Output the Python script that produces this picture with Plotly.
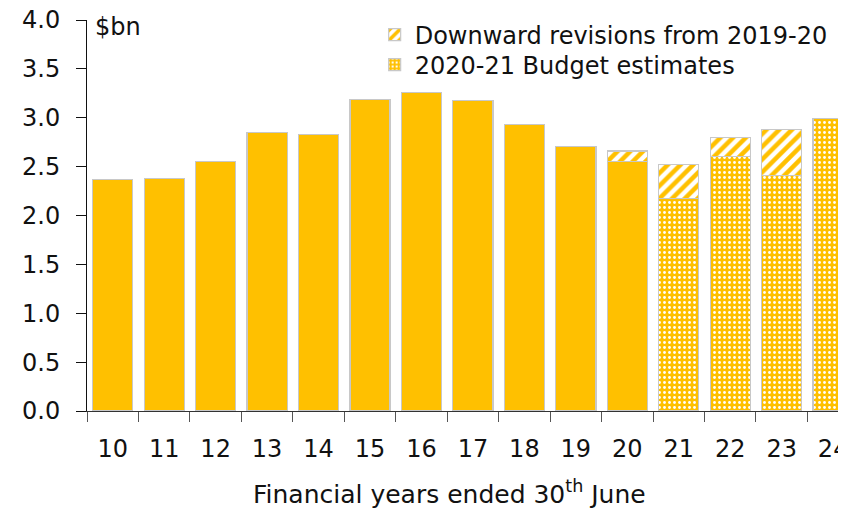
import plotly.graph_objects as go

years = ["10", "11", "12", "13", "14", "15", "16", "17", "18", "19", "20", "21", "22", "23", "24"]
actual = [2.37, 2.38, 2.55, 2.85, 2.83, 3.19, 3.26, 3.18, 2.93, 2.71, 2.55, None, None, None, None]
budget = [None, None, None, None, None, None, None, None, None, None, None, 2.17, 2.60, 2.41, 2.99]
revisions = [None, None, None, None, None, None, None, None, None, None, 0.11, 0.35, 0.20, 0.47, None]

GOLD = "#FFC000"
EDGE = "#C8C8C8"
FONT = "DejaVu Sans"

fig = go.Figure()
fig.add_bar(x=years, y=actual, name="Actual", showlegend=False,
            marker=dict(color=GOLD, line=dict(color=EDGE, width=1.2)))
fig.add_bar(x=years, y=budget, name="2020-21 Budget estimates", legend="legend2",
            marker=dict(color=GOLD, line=dict(color=EDGE, width=1.2),
                        pattern=dict(shape=".", fgcolor="white", bgcolor=GOLD,
                                     size=5, solidity=0.25, fillmode="replace")))
fig.add_bar(x=years, y=revisions, name="Downward revisions from 2019-20", legend="legend",
            marker=dict(color="white", line=dict(color=EDGE, width=1.2),
                        pattern=dict(shape="/", fgcolor=GOLD, bgcolor="white",
                                     size=9, solidity=0.5, fillmode="replace")))

legend_common = dict(xanchor="left", yanchor="middle", bgcolor="rgba(0,0,0,0)",
                     font=dict(size=24, family=FONT), itemwidth=30)

fig.update_layout(
    width=838, height=501,
    margin=dict(l=79, r=0, t=12, b=98, autoexpand=False),
    barmode="stack", bargap=0.22,
    plot_bgcolor="white", paper_bgcolor="white",
    font=dict(family=FONT, size=24, color="#111"),
    legend=dict(x=0.379, y=0.9616, **legend_common),
    legend2=dict(x=0.379, y=0.885, **legend_common),
    xaxis=dict(range=[-0.5, 14.25], showline=True, linecolor="#333", linewidth=1,
               ticks="outside", tickson="boundaries", ticklen=10, tickcolor="#555",
               ticklabelstandoff=16, showgrid=False, automargin=False,
               ticklabeloverflow="allow",
               tickfont=dict(size=24, family=FONT)),
    yaxis=dict(range=[0, 4.0], dtick=0.5, tickformat=".1f", showline=True,
               linecolor="#111", linewidth=1, ticks="outside", ticklen=10,
               tickcolor="#111", showgrid=False, zeroline=False, automargin=False,
               ticklabeloverflow="allow",
               ticklabelstandoff=11, tickfont=dict(size=24, family=FONT)),
    annotations=[
        dict(text="$bn", xref="paper", yref="paper", x=0.008, y=0.982,
             xanchor="left", yanchor="middle", showarrow=False,
             font=dict(size=24, family=FONT)),
        dict(text="Financial years ended 30<sup>th</sup> June", xref="paper", yref="paper",
             x=0.478, y=-0.2097, xanchor="center", yanchor="middle", showarrow=False,
             font=dict(size=25, family=FONT)),
    ],
)

fig.write_html("out.html")
